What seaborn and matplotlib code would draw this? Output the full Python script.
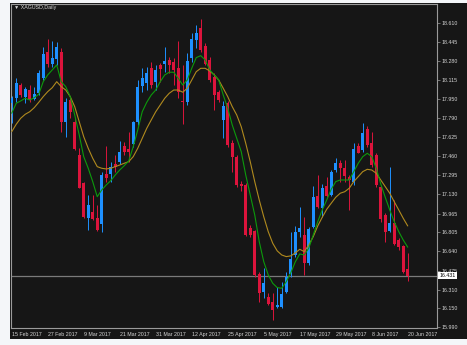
import numpy as np
import pandas as pd
import matplotlib
matplotlib.use("Agg")
import matplotlib.pyplot as plt
import matplotlib.transforms as mtransforms
from matplotlib.patches import Rectangle
import seaborn as sns

# ---------------- data ----------------
symbol_title = "\u25bc XAGUSD,Daily"
dates = pd.bdate_range("2017-02-15", "2017-06-20")
dates = dates[dates != pd.Timestamp("2017-04-14")]

opens = [17.918, 17.959, 18.073, 17.973, 18.030, 17.953, 18.002, 18.131, 18.360, 18.252,
         18.297, 18.360, 17.757, 17.944, 17.752, 17.471, 17.227, 16.925, 16.977, 16.925,
         16.874, 17.304, 17.304, 17.390, 17.413, 17.548, 17.522, 17.563, 17.752, 18.067,
         18.091, 18.220, 18.102, 18.246, 18.252, 18.289, 18.274, 18.217, 17.936, 17.924,
         18.303, 18.461, 18.562, 18.412, 18.289, 18.145, 18.011, 17.772, 17.916, 17.576,
         17.456, 17.221, 17.212, 16.839, 16.816, 16.443, 16.293, 16.250, 16.202, 16.161,
         16.164, 16.293, 16.441, 16.605, 16.810, 16.781, 16.538, 16.853, 17.117, 17.011,
         17.203, 17.126, 17.341, 17.404, 17.356, 17.284, 17.240, 17.548, 17.514, 17.692,
         17.571, 17.471, 17.198, 16.954, 16.818, 16.882, 16.738, 16.687, 16.486]
highs = [17.979, 18.131, 18.088, 18.059, 18.073, 18.059, 18.203, 18.398, 18.470, 18.452,
         18.446, 18.390, 17.959, 17.959, 17.787, 17.528, 17.240, 17.126, 17.126, 17.040,
         17.327, 17.551, 17.413, 17.471, 17.591, 17.585, 17.671, 17.763, 18.116, 18.217,
         18.231, 18.274, 18.246, 18.260, 18.398, 18.317, 18.303, 18.452, 18.246, 18.346,
         18.519, 18.590, 18.642, 18.432, 18.317, 18.174, 18.030, 17.936, 17.936, 17.600,
         17.471, 17.247, 17.229, 16.868, 16.825, 16.465, 16.495, 16.279, 16.279, 16.336,
         16.379, 16.465, 16.810, 16.859, 17.025, 16.939, 16.853, 17.203, 17.298, 17.221,
         17.284, 17.341, 17.442, 17.427, 17.427, 17.298, 17.571, 17.571, 17.744, 17.720,
         17.671, 17.485, 17.212, 16.968, 17.370, 17.083, 16.753, 16.695, 16.624]
lows = [17.746, 17.930, 17.973, 17.916, 17.930, 17.944, 17.987, 18.116, 18.231, 18.231,
        18.246, 17.671, 17.628, 17.787, 17.514, 17.184, 16.930, 16.825, 16.911, 16.816,
        16.810, 17.240, 17.240, 17.327, 17.390, 17.471, 17.413, 17.542, 17.729, 18.016,
        18.030, 18.045, 18.030, 18.102, 18.188, 18.174, 18.073, 17.959, 17.735, 17.901,
        18.274, 18.390, 18.360, 18.246, 18.102, 17.858, 17.930, 17.620, 17.542, 17.324,
        17.198, 17.160, 16.773, 16.767, 16.422, 16.207, 16.236, 16.179, 16.049, 16.150,
        16.150, 16.279, 16.422, 16.592, 16.767, 16.437, 16.523, 16.839, 17.011, 16.939,
        17.106, 17.117, 17.327, 17.240, 17.240, 16.997, 17.212, 17.485, 17.499, 17.542,
        17.370, 17.198, 16.896, 16.724, 16.810, 16.695, 16.652, 16.457, 16.388]
closes = [17.961, 18.088, 17.987, 18.039, 17.944, 17.993, 18.174, 18.338, 18.252, 18.303,
          18.403, 17.757, 17.924, 17.843, 17.522, 17.189, 16.939, 17.040, 16.919, 16.825,
          17.298, 17.275, 17.370, 17.370, 17.499, 17.494, 17.499, 17.752, 18.059, 18.136,
          18.177, 18.069, 18.203, 18.209, 18.280, 18.246, 18.203, 18.016, 17.924, 18.280,
          18.470, 18.519, 18.375, 18.252, 18.116, 17.987, 17.944, 17.895, 17.557, 17.456,
          17.212, 17.203, 16.781, 16.781, 16.437, 16.279, 16.365, 16.185, 16.136, 16.179,
          16.271, 16.422, 16.577, 16.810, 16.839, 16.538, 16.833, 17.111, 17.025, 17.184,
          17.117, 17.327, 17.399, 17.356, 17.290, 17.255, 17.520, 17.490, 17.663, 17.557,
          17.384, 17.212, 16.917, 16.810, 16.882, 16.704, 16.676, 16.465, 16.431]
ma_fast = [17.830, 17.916, 17.936, 17.959, 17.944, 17.964, 17.993, 18.102, 18.160, 18.203,
           18.246, 18.102, 18.059, 17.973, 17.815, 17.643, 17.456, 17.356, 17.241, 17.111,
           17.169, 17.212, 17.249, 17.298, 17.341, 17.378, 17.419, 17.542, 17.686, 17.843,
           17.924, 17.987, 18.030, 18.102, 18.160, 18.183, 18.183, 18.131, 18.073, 18.116,
           18.217, 18.309, 18.326, 18.289, 18.203, 18.160, 18.116, 17.987, 17.873, 17.729,
           17.614, 17.499, 17.298, 17.126, 16.954, 16.724, 16.552, 16.437, 16.365, 16.328,
           16.322, 16.379, 16.454, 16.549, 16.618, 16.609, 16.667, 16.781, 16.896, 16.997,
           17.083, 17.175, 17.241, 17.255, 17.255, 17.255, 17.327, 17.399, 17.456, 17.485,
           17.456, 17.356, 17.221, 17.106, 16.997, 16.896, 16.810, 16.738, 16.676]
ma_slow = [17.671, 17.735, 17.787, 17.821, 17.843, 17.878, 17.924, 17.973, 18.016, 18.050,
           18.102, 18.059, 18.030, 17.973, 17.887, 17.757, 17.628, 17.528, 17.442, 17.370,
           17.356, 17.350, 17.356, 17.370, 17.384, 17.399, 17.413, 17.456, 17.528, 17.614,
           17.700, 17.772, 17.843, 17.901, 17.959, 18.002, 18.030, 18.030, 18.011, 18.045,
           18.116, 18.188, 18.217, 18.217, 18.194, 18.160, 18.116, 18.045, 17.973, 17.887,
           17.815, 17.714, 17.571, 17.413, 17.241, 17.083, 16.939, 16.810, 16.710, 16.644,
           16.609, 16.595, 16.601, 16.626, 16.658, 16.638, 16.695, 16.767, 16.859, 16.934,
           17.003, 17.055, 17.106, 17.141, 17.154, 17.184, 17.241, 17.284, 17.327, 17.347,
           17.341, 17.313, 17.255, 17.198, 17.141, 17.068, 16.997, 16.925, 16.859]
y_ticks = [18.610, 18.445, 18.280, 18.115, 17.950, 17.790, 17.625, 17.460, 17.295,
           17.130, 16.965, 16.805, 16.640, 16.475, 16.310, 16.150, 15.990]
current_price = 16.431
label_every = 8

# ---------------- style ----------------
BG_OUT = "#f4f6f9"
BG = "#161616"
GRID = "#9a9a9a"
TXT = "#d6d6d6"
BULL = "#1e90ff"
BEAR = "#dc143c"
GREEN = "#0c9a0c"
GOLD = "#b08a1e"

sns.set_theme(style="dark", rc={"axes.facecolor": BG})
plt.rcParams["font.family"] = ["Liberation Sans", "DejaVu Sans"]
FS = 3.8

df = pd.DataFrame({"idx": np.arange(len(dates)), "date": dates,
                   "open": opens, "high": highs, "low": lows, "close": closes,
                   "ma_fast": ma_fast, "ma_slow": ma_slow})
bull = df["close"] >= df["open"]
colors = np.where(bull, BULL, BEAR)

fig = plt.figure(figsize=(4.67, 3.45), dpi=100, facecolor=BG_OUT)
bgrect = Rectangle((10 / 467, 6 / 345), 457 / 467, 336 / 345,
                   transform=fig.transFigure, facecolor=BG, edgecolor="none")
bgrect.set_zorder(-10)
fig.patches.append(bgrect)
ax = fig.add_axes([11 / 467, 1 - 328 / 345, 426 / 467, 324 / 345])
ax.set_zorder(1)
ax.set_facecolor(BG)

# wicks
ax.vlines(df["idx"], df["low"], df["high"], colors=colors, linewidth=0.7, zorder=2)
# bodies
body_bottom = np.minimum(df["open"], df["close"])
body_h = np.maximum(np.abs(df["close"] - df["open"]), 0.004)
ax.bar(df["idx"], body_h, bottom=body_bottom, width=0.68, color=colors,
       linewidth=0, zorder=3)

# moving averages
sns.lineplot(data=df, x="idx", y="ma_slow", ax=ax, color=GOLD, linewidth=0.8, zorder=4)
sns.lineplot(data=df, x="idx", y="ma_fast", ax=ax, color=GREEN, linewidth=0.8, zorder=5)

# current price line
ax.axhline(current_price, color="#7a7a7a", linewidth=0.9, zorder=1)

ax.set_xlim(-0.16, 94.5)
ax.set_ylim(15.980, 18.771)
ax.grid(False)
ax.set_xlabel("")
ax.set_ylabel("")

ax.yaxis.tick_right()
ax.set_yticks(y_ticks)
ax.set_yticklabels([f"{v:.3f}" for v in y_ticks])
tick_pos = df["idx"].iloc[::label_every].tolist()
tick_lab = [f"{d.day} {d:%b %Y}" for d in df["date"].iloc[::label_every]]
ax.set_xticks(tick_pos)
ax.set_xticklabels(tick_lab, ha="left")
ax.tick_params(axis="both", labelsize=FS, colors=GRID, labelcolor=TXT,
               length=2, width=0.5, direction="out")
ax.tick_params(axis="y", pad=1.5)
ax.tick_params(axis="x", pad=1.2)
for s in ax.spines.values():
    s.set_color(GRID)
    s.set_linewidth(0.8)
    s.set_visible(True)

# price label box
trans = mtransforms.blended_transform_factory(ax.transAxes, ax.transData)
ax.text(1.006, current_price, f"{current_price:.3f}", transform=trans,
        fontsize=FS, color="black", ha="left", va="center",
        bbox=dict(boxstyle="square,pad=0.25", facecolor="white", edgecolor="none"),
        zorder=10, clip_on=False)

fig.text(14 / 467, 1 - 7.5 / 345, symbol_title, fontsize=FS, color=TXT,
         ha="left", va="center")

fig.savefig("out.png", dpi=100, facecolor=fig.get_facecolor())
